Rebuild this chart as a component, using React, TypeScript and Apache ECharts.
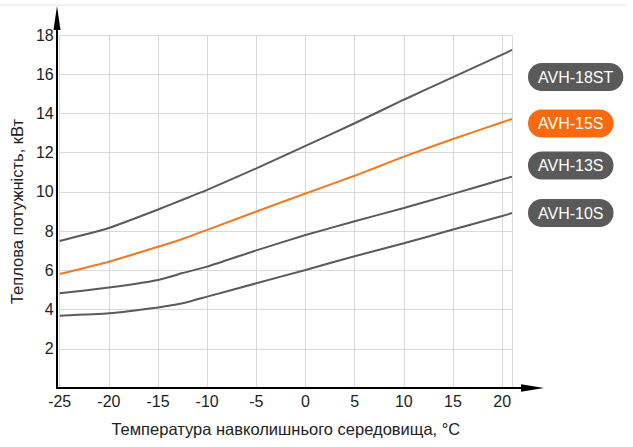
import { useEffect, useRef } from "react";
import * as echarts from "echarts";

const temps = [-25, -20, -15, -12.5, -10, -5, 0, 5, 10, 15, 20, 21];
const avh18st = [7.5, 8.16, 9.1, 9.6, 10.1, 11.2, 12.35, 13.5, 14.7, 15.85, 17.0, 17.24];
const avh15s = [5.81, 6.44, 7.2, 7.6, 8.06, 9.0, 9.92, 10.82, 11.8, 12.7, 13.55, 13.72];
const avh13s = [4.83, 5.12, 5.51, 5.86, 6.19, 7.02, 7.8, 8.5, 9.18, 9.9, 10.63, 10.78];
const avh10s = [3.69, 3.81, 4.11, 4.32, 4.66, 5.34, 6.02, 6.72, 7.38, 8.08, 8.77, 8.92];

const seriesNames = ["AVH-18ST", "AVH-15S", "AVH-13S", "AVH-10S"];
const seriesValues = [avh18st, avh15s, avh13s, avh10s];

const GRAY = "#5a5a5a";
const ORANGE = "#f07a22";
const BADGE_ORANGE = "#f96a10";
const FONT = "'Liberation Sans', Arial, sans-serif";

// grid edges in pixels
const L = 57;
const R = 512;
const T = 35;
const B = 388;

const badgeY = [77, 123.5, 165.5, 213];

export default function App() {
  const chartRef = useRef<HTMLDivElement>(null);

  useEffect(() => {
    if (!chartRef.current) return;
    const chart = echarts.init(chartRef.current, undefined, { renderer: "svg" });

    const option: echarts.EChartsOption = {
      animation: false,
      backgroundColor: "#ffffff",
      textStyle: { fontFamily: FONT },
      grid: { left: L, right: 633 - R, top: T, bottom: 447 - B },
      xAxis: {
        type: "value",
        min: -25,
        max: 21,
        interval: 5,
        name: "Температура навколишнього середовища, °C",
        nameLocation: "middle",
        nameGap: 32,
        nameTextStyle: { fontSize: 16.5, color: "#222", fontFamily: FONT },
        axisLine: { show: false },
        axisTick: { show: false },
        axisLabel: { showMaxLabel: false, fontSize: 16, color: "#222", margin: 5 },
        splitLine: { show: true, lineStyle: { color: "#d9d9d9", width: 1 } },
      },
      yAxis: {
        type: "value",
        min: 0,
        max: 18,
        interval: 2,
        name: "Теплова потужність, кВт",
        nameLocation: "middle",
        nameGap: 32,
        nameTextStyle: { fontSize: 16.5, color: "#222", fontFamily: FONT },
        axisLine: { show: false },
        axisTick: { show: false },
        axisLabel: { showMinLabel: false, fontSize: 16, color: "#222", margin: 6 },
        splitLine: { show: true, lineStyle: { color: "#d9d9d9", width: 1 } },
      },
      series: seriesNames.map((name, i) => ({
        name,
        type: "line",
        data: temps.map((t, j) => [t, seriesValues[i][j]]),
        smooth: 0.15,
        symbol: "none",
        lineStyle: { width: 2, color: i === 1 ? ORANGE : GRAY },
        z: i === 1 ? 3 : 2,
      })),
      graphic: [
        {
          type: "line",
          shape: { x1: 0, y1: 5, x2: 626, y2: 5 },
          style: { stroke: "#e2e2e2", lineWidth: 1 },
        },
        {
          type: "line",
          z: 10,
          shape: { x1: L, y1: B, x2: 530, y2: B },
          style: { stroke: "#000", lineWidth: 2 },
        },
        {
          type: "polygon",
          z: 10,
          shape: { points: [[521, B - 3.8], [544, B], [521, B + 3.8]] },
          style: { fill: "#000" },
        },
        {
          type: "line",
          z: 10,
          shape: { x1: L, y1: B + 1, x2: L, y2: 20 },
          style: { stroke: "#000", lineWidth: 2 },
        },
        {
          type: "polygon",
          z: 10,
          shape: { points: [[L - 3.5, 30], [L, 6], [L + 3.5, 30]] },
          style: { fill: "#000" },
        },
        ...seriesNames.map((name, i) => ({
          type: "text" as const,
          z: 10,
          x: 528,
          y: badgeY[i],
          style: {
            text: name,
            fill: "#ffffff",
            font: `16px ${FONT}`,
            verticalAlign: "middle" as const,
            backgroundColor: i === 1 ? BADGE_ORANGE : GRAY,
            borderRadius: 14,
            padding: [6, 10, 6, 10],
            lineHeight: 16,
          },
        })),
      ],
    };

    chart.setOption(option);

    return () => {
      chart.dispose();
    };
  }, []);

  return (
    <div
      ref={chartRef}
      style={{ position: "fixed", left: 0, top: 0, width: 633, height: 447 }}
    />
  );
}
